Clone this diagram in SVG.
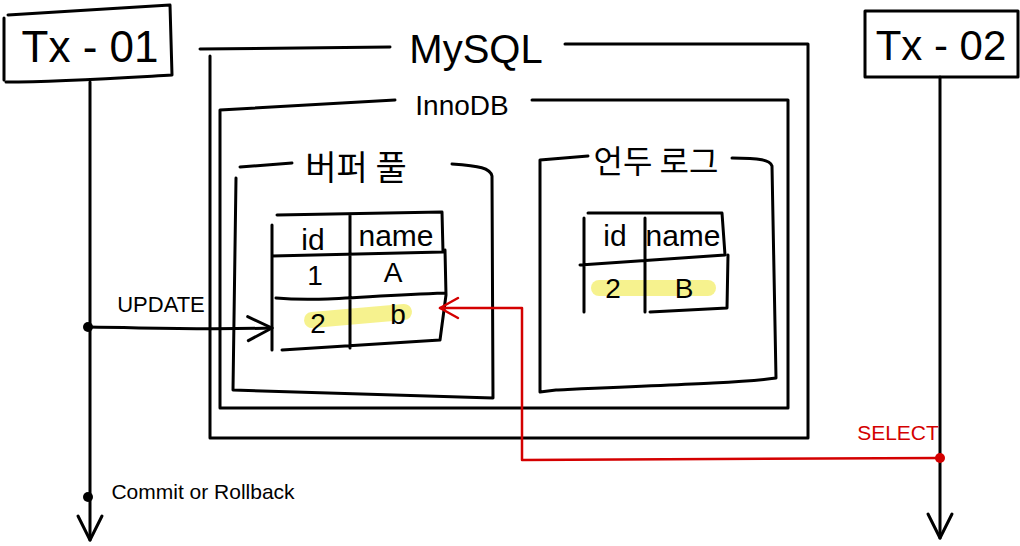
<svg xmlns="http://www.w3.org/2000/svg" width="1020" height="546" viewBox="0 0 1020 546">
<defs>
<style>
.ln{fill:none;stroke:#000;stroke-width:3;stroke-linecap:round;stroke-linejoin:round}
.red{fill:none;stroke:#d40000;stroke-width:2.5;stroke-linecap:round;stroke-linejoin:round}
.hl{fill:none;stroke:#f5f07a;stroke-width:16;stroke-linecap:round;opacity:0.85}
.t{font-family:"Liberation Sans","Noto Sans CJK KR",sans-serif;fill:#000;text-anchor:middle}
.k{font-family:"Noto Sans CJK KR",sans-serif;fill:#000;text-anchor:middle}
.rt{fill:#d40000}
</style>
<marker id="openBig" viewBox="0 0 30 30" refX="27" refY="15" markerWidth="30" markerHeight="30" markerUnits="userSpaceOnUse" orient="auto">
<path d="M3,3 L27,15 L3,27" fill="none" stroke="#000" stroke-width="3" stroke-linecap="round" stroke-linejoin="round"/>
</marker>
<marker id="openRed" viewBox="0 0 24 24" refX="21" refY="12" markerWidth="24" markerHeight="24" markerUnits="userSpaceOnUse" orient="auto">
<path d="M3,2 L21,12 L3,22" fill="none" stroke="#d40000" stroke-width="2.5" stroke-linecap="round" stroke-linejoin="round"/>
</marker>
</defs>
<rect width="1020" height="546" fill="#fff"/>

<g id="tx01">
<path class="ln" d="M4,18 L4,80 M8,15 C60,12 120,8 170,5 L172,75 C120,78 60,82 6,82"/>
<text class="t" x="90" y="62" font-size="44">Tx - 01</text>
</g>

<g id="tx02">
<rect class="ln" x="865" y="11" width="153" height="66"/>
<text class="t" x="941" y="60" font-size="42">Tx - 02</text>
</g>

<g id="mysql">
<path class="ln" d="M200,49 L390,47 M565,44 L808,44 L808,438 L210,438 L210,56"/>
<text class="t" x="476" y="63" font-size="40">MySQL</text>
</g>

<g id="innodb">
<path class="ln" d="M220,110 L220,408 L788,408 L788,100 L532,100 M220,110 L395,100"/>
<text class="t" x="462" y="115" font-size="28">InnoDB</text>
</g>

<g id="bufferpool">
<path class="ln" d="M240,167 L292,163 M452,164 C480,166 490,168 492,176 L493,398 L233,390 L236,178"/>
<text class="k" x="356" y="180" font-size="34">버퍼 풀</text>
</g>

<g id="undolog">
<path class="ln" d="M540,160 L588,156 M732,158 C760,158 770,160 772,166 L776,378 C750,382 700,384 556,390 L540,392 L540,160"/>
<text class="k" x="656" y="173" font-size="32">언두 로그</text>
</g>

<g id="bp-table">
<path class="hl" d="M312,320 L404,312"/>
<path class="ln" d="M272,225 L272,350 M277,215 L442,212 L443,252 L272,256 M350,215 L350,348 M276,298 C320,302 360,296 445,293 M445,250 L446,295 L440,340 L282,350"/>
<text class="t" x="313" y="250" font-size="30">id</text>
<text class="t" x="396" y="246" font-size="30">name</text>
<text class="t" x="315" y="285" font-size="28">1</text>
<text class="t" x="393" y="282" font-size="28">A</text>
<text class="t" x="318" y="333" font-size="28">2</text>
<text class="t" x="398" y="324" font-size="28">b</text>
</g>

<g id="ul-table">
<path class="hl" d="M599,288 L708,288"/>
<path class="ln" d="M584,218 L584,312 M588,213 L722,213 L725,255 L580,265 M645,218 L645,312 M728,255 L727,308 L650,312"/>
<text class="t" x="615" y="246" font-size="30">id</text>
<text class="t" x="683" y="246" font-size="30">name</text>
<text class="t" x="613" y="298" font-size="28">2</text>
<text class="t" x="684" y="298" font-size="28">B</text>
</g>

<g id="connectors">
<line class="ln" x1="90" y1="82" x2="90" y2="540" marker-end="url(#openBig)"/>
<line class="ln" x1="940" y1="77" x2="940" y2="538" marker-end="url(#openBig)"/>
<circle cx="88" cy="327" r="5" fill="#000"/>
<circle cx="88" cy="497" r="5" fill="#000"/>
<path class="ln" d="M88,327 C160,328 200,330 272,328" marker-end="url(#openBig)"/>
<path class="red" d="M940,458 L522,460 L522,308 L440,308" marker-end="url(#openRed)"/>
<circle cx="940" cy="458" r="5" fill="#d40000"/>
</g>

<g id="labels">
<text class="t" x="161" y="312" font-size="22">UPDATE</text>
<text class="t" x="203" y="499" font-size="21">Commit or Rollback</text>
<text class="t rt" x="898" y="440" font-size="21">SELECT</text>
</g>
</svg>
